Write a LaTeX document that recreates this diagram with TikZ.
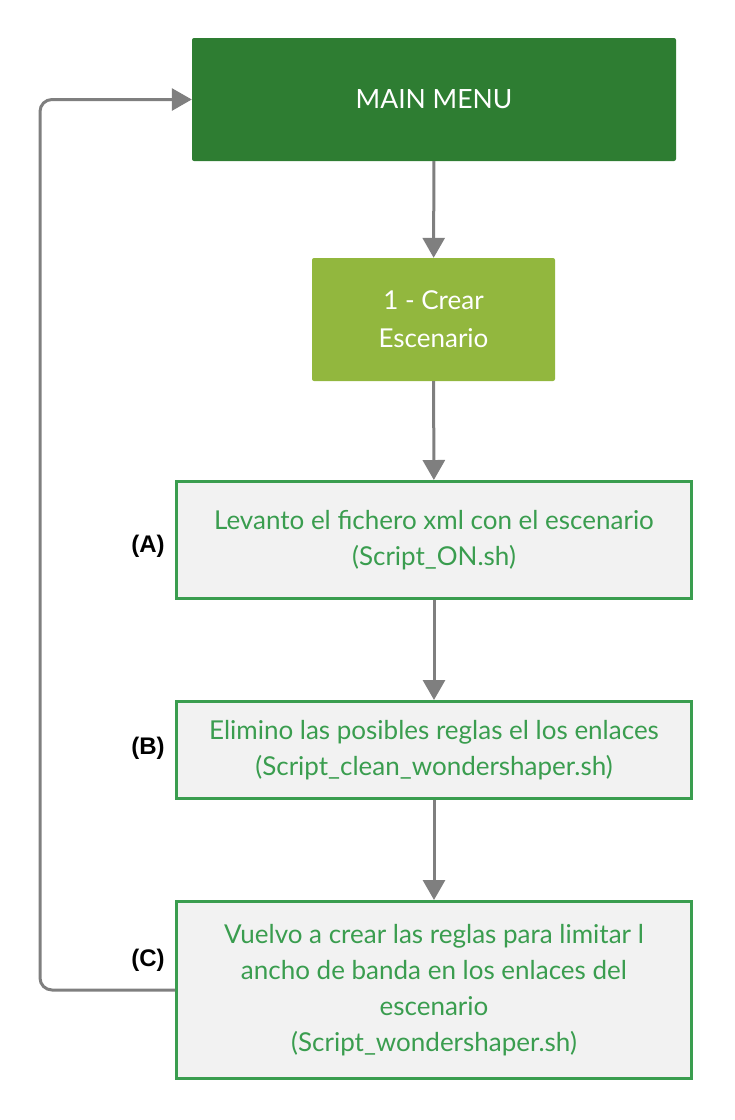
\documentclass[tikz,border=0pt]{standalone}
\usepackage{fontspec}
\setmainfont{Lato}
\newfontfamily\labelfont{Liberation Sans}
\usetikzlibrary{arrows.meta}
\definecolor{menugreen}{HTML}{2E7D32}
\definecolor{stepgreen}{HTML}{92B73E}
\definecolor{framegreen}{HTML}{3A9D4F}
\definecolor{boxgray}{HTML}{F2F2F2}
\definecolor{linkgray}{HTML}{7F7F7F}
\tikzset{
  menubox/.style={fill=menugreen,text=white,rounded corners=2pt,minimum width=484pt,minimum height=123pt,align=center,font=\fontsize{26.5}{33}\selectfont},
  crearbox/.style={fill=stepgreen,text=white,rounded corners=2pt,minimum width=243pt,minimum height=123pt,align=center,font=\fontsize{26}{38}\selectfont},
  scriptbox/.style={draw=framegreen,line width=3pt,fill=boxgray,text=framegreen,minimum width=515pt,align=center,font=\fontsize{26}{36}\selectfont},
  tag/.style={font=\labelfont\bfseries\fontsize{24}{28}\selectfont},
  link/.style={draw=linkgray,line width=3pt,-{Triangle[width=22pt,length=20pt]}}
}
\begin{document}
\begin{tikzpicture}[x=1pt,y=-1pt]
\useasboundingbox (0,0) rectangle (735,1120);
\node[menubox] (menu) at (434,99.5) {MAIN MENU};
\node[crearbox] (crear) at (433.5,319.5) {1 - Crear\\Escenario};
\node[scriptbox,minimum height=117pt] (fichero) at (434,540) {Levanto el fichero xml con el escenario\\(Script\_ON.sh)};
\node[scriptbox,minimum height=97pt] (limpiar) at (434,750) {Elimino las posibles reglas el los enlaces\\(Script\_clean\_wondershaper.sh)};
\node[scriptbox,minimum height=177pt] (limitar) at (434,990) {Vuelvo a crear las reglas para limitar l\\ancho de banda en los enlaces del\\escenario\\(Script\_wondershaper.sh)};
\node[tag] (labA) at (148,546) {(A)};
\node[tag] (labB) at (148,748) {(B)};
\node[tag] (labC) at (148,960) {(C)};
\draw[link] (menu) -- (crear);
\draw[link] (crear) -- (fichero);
\draw[link] (fichero) -- (limpiar);
\draw[link] (limpiar) -- (limitar);
\draw[link,rounded corners=12pt] (limitar.west) -- (40,990) -- (40,99.5) -- (menu.west);
\end{tikzpicture}
\end{document}
